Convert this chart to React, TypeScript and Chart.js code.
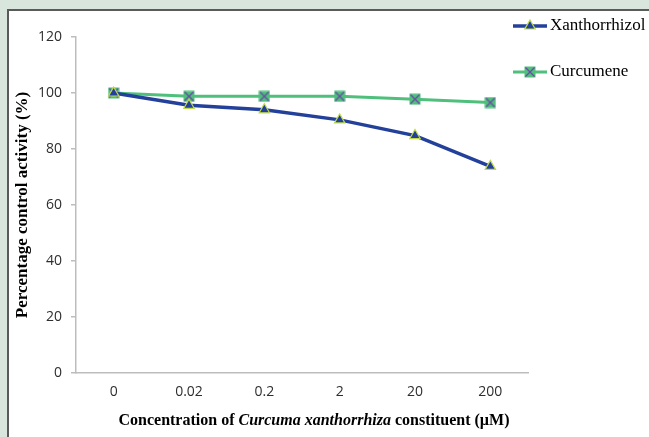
import React, { useEffect, useRef } from "react";
import { Chart, registerables } from "chart.js";

Chart.register(...registerables);

const categories = ["0", "0.02", "0.2", "2", "20", "200"];
const xanthorrhizol = [100, 95.6, 94, 90.4, 84.8, 73.8];
const curcumene = [100, 98.8, 98.8, 98.8, 97.8, 96.6];
const seriesNames = ["Xanthorrhizol", "Curcumene"];
const yTitle = "Percentage control activity (%)";
const xTitleParts = [
  { text: "Concentration of ", italic: false },
  { text: "Curcuma xanthorrhiza", italic: true },
  { text: " constituent (\u00b5M)", italic: false },
];

const BLUE = "#23409a";
const GREEN = "#4fbf7c";
const TRI_BORDER = "#bfdb4c";
const PURPLE = "#6a4aa6";

function makeSquareX(): HTMLCanvasElement {
  const c = document.createElement("canvas");
  c.width = 12;
  c.height = 12;
  const g = c.getContext("2d")!;
  g.fillStyle = GREEN;
  g.fillRect(0.5, 0.5, 11, 11);
  g.strokeStyle = PURPLE;
  g.lineWidth = 1.3;
  g.beginPath();
  g.moveTo(1.5, 1.5);
  g.lineTo(10.5, 10.5);
  g.moveTo(10.5, 1.5);
  g.lineTo(1.5, 10.5);
  g.stroke();
  return c;
}

export default function App() {
  const ref = useRef<HTMLCanvasElement>(null);
  useEffect(() => {
    const sq = makeSquareX();
    const framePlugin = {
      id: "frame",
      beforeDraw(chart: any) {
        const ctx = chart.ctx;
        ctx.save();
        ctx.fillStyle = "#d9e6dd";
        ctx.fillRect(0, 0, chart.width, chart.height);
        ctx.fillStyle = "#ffffff";
        ctx.fillRect(7, 9, chart.width, chart.height);
        ctx.strokeStyle = "#5a5a5a";
        ctx.lineWidth = 2;
        ctx.beginPath();
        ctx.moveTo(8, chart.height + 5);
        ctx.lineTo(8, 10);
        ctx.lineTo(chart.width + 5, 10);
        ctx.stroke();
        ctx.restore();
      },
      afterDraw(chart: any) {
        const ctx = chart.ctx;
        ctx.save();
        // y title
        ctx.fillStyle = "#000";
        ctx.font = "bold 17px 'Liberation Serif'";
        ctx.textAlign = "center";
        ctx.textBaseline = "middle";
        ctx.translate(23, 205);
        ctx.rotate(-Math.PI / 2);
        ctx.fillText(yTitle, 0, 0);
        ctx.restore();

        // x title
        ctx.save();
        ctx.fillStyle = "#000";
        ctx.textBaseline = "middle";
        const fonts = xTitleParts.map((p) =>
          p.italic ? "bold italic 16px 'Liberation Serif'" : "bold 16px 'Liberation Serif'"
        );
        let total = 0;
        const widths = xTitleParts.map((p, i) => {
          ctx.font = fonts[i];
          const w = ctx.measureText(p.text).width;
          total += w;
          return w;
        });
        let x = 314 - total / 2;
        ctx.textAlign = "left";
        xTitleParts.forEach((p, i) => {
          ctx.font = fonts[i];
          ctx.fillText(p.text, x, 421);
          x += widths[i];
        });
        ctx.restore();

        // legend
        ctx.save();
        const ys = [26, 72];
        chart.data.datasets.forEach((ds: any, i: number) => {
          const y = ys[i];
          ctx.strokeStyle = ds.borderColor;
          ctx.lineWidth = ds.borderWidth;
          ctx.beginPath();
          ctx.moveTo(513, y);
          ctx.lineTo(547, y);
          ctx.stroke();
          if (i === 0) {
            const r = 6;
            ctx.fillStyle = BLUE;
            ctx.strokeStyle = TRI_BORDER;
            ctx.lineWidth = 1.2;
            ctx.beginPath();
            ctx.moveTo(530, y - r);
            ctx.lineTo(530 + r * 0.866, y + r / 2);
            ctx.lineTo(530 - r * 0.866, y + r / 2);
            ctx.closePath();
            ctx.fill();
            ctx.stroke();
          } else {
            ctx.drawImage(sq, 530 - 6, y - 6);
          }
          ctx.fillStyle = "#000";
          ctx.font = "17px 'Liberation Serif'";
          ctx.textAlign = "left";
          ctx.textBaseline = "middle";
          ctx.fillText(ds.label, 550, y);
        });
        ctx.restore();
      },
    };

    const chart = new Chart(ref.current!, {
      type: "line",
      data: {
        labels: categories,
        datasets: [
          {
            label: seriesNames[0],
            data: xanthorrhizol,
            borderColor: BLUE,
            borderWidth: 3.5,
            pointStyle: "triangle",
            pointRadius: 6,
            pointBackgroundColor: BLUE,
            pointBorderColor: TRI_BORDER,
            pointBorderWidth: 1.2,
            tension: 0,
          },
          {
            label: seriesNames[1],
            data: curcumene,
            borderColor: GREEN,
            borderWidth: 3,
            pointStyle: sq as any,
            pointRadius: 6,
            tension: 0,
          },
        ],
      },
      options: {
        responsive: false,
        animation: false,
        events: [],
        layout: { padding: { left: 0, right: 121, top: 37, bottom: 0 } },
        plugins: { legend: { display: false }, tooltip: { enabled: false } },
        scales: {
          x: {
            offset: true,
            grid: { display: false, drawTicks: false },
            border: { display: true, color: "#bdbdbd", width: 1.5 },
            ticks: {
              color: "#2e2e2e",
              font: { family: "'Open Sans'", size: 14 },
              padding: 11,
              maxRotation: 0,
            },
            afterFit(scale: any) {
              scale.height = 64;
            },
          },
          y: {
            min: 0,
            max: 120,
            ticks: {
              stepSize: 20,
              color: "#2e2e2e",
              font: { family: "'Open Sans'", size: 14 },
              padding: 9,
            },
            grid: {
              display: true,
              drawOnChartArea: false,
              drawTicks: true,
              tickLength: 5,
              color: "#bdbdbd",
              lineWidth: 1.5,
            },
            border: { display: true, color: "#bdbdbd", width: 1.5 },
            afterFit(scale: any) {
              scale.width = 76;
            },
          },
        },
      },
      plugins: [framePlugin],
    });
    return () => chart.destroy();
  }, []);
  return (
    <div style={{ position: "fixed", left: 0, top: 0, width: 649, height: 437 }}>
      <canvas ref={ref} width={649} height={437} style={{ display: "block" }} />
    </div>
  );
}
